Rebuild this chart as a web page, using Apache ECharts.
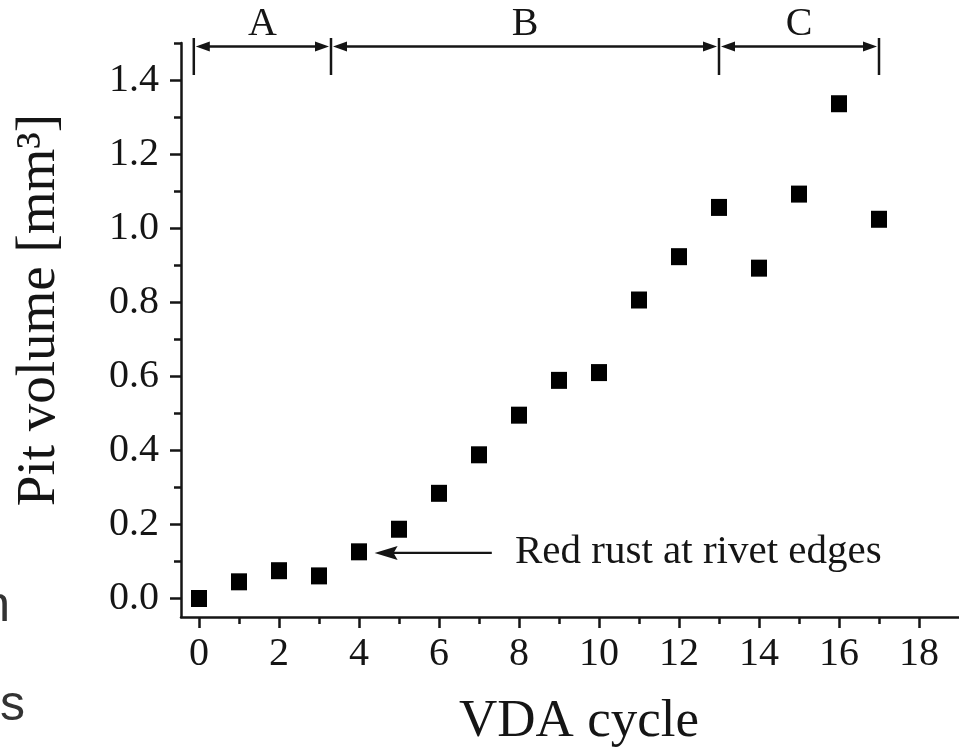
<!DOCTYPE html>
<html><head><meta charset="utf-8">
<script src="https://cdn.jsdelivr.net/npm/echarts@6/dist/echarts.min.js"></script>
<style>html,body{margin:0;padding:0;background:#fff}#c{width:959px;height:752px}</style>
</head><body><div id="c"></div>
<script>
// ---- data ----
const cycles = [0, 1, 2, 3, 4, 5, 6, 7, 8, 9, 10, 11, 12, 13, 14, 15, 16, 17];
const pitVolume = [0.0, 0.045, 0.075, 0.061, 0.126, 0.187, 0.284, 0.388, 0.495, 0.589, 0.610, 0.806, 0.923, 1.056, 0.892, 1.092, 1.336, 1.024];
const xMajorTicks = [0, 2, 4, 6, 8, 10, 12, 14, 16, 18];
const xMinorTicks = [1, 3, 5, 7, 9, 11, 13, 15, 17];
const yMajorTicks = [0, 0.2, 0.4, 0.6, 0.8, 1.0, 1.2, 1.4];
const yMinorTicks = [0.1, 0.3, 0.5, 0.7, 0.9, 1.1, 1.3, 1.5];
const regionBounds = [-0.13, 3.3, 13, 17];
const regionLabels = ['A', 'B', 'C'];
const rustArrowFrom = [7.32, 0.123];
const rustArrowTo = [4.39, 0.123];
const rustLabelX = 7.9;
const rustLabel = 'Red rust at rivet edges';
const xTitle = 'VDA cycle';
const yTitle = 'Pit volume [mm³]';
const sideFragments = ['n', 's'];

// ---- chart ----
const INK = '#151515';
const SERIF = 'Liberation Serif';
const chart = echarts.init(document.getElementById('c'), null, {renderer: 'canvas'});
const X_MIN = -0.45, X_MAX = 19, Y_MIN = -0.05, Y_MAX = 1.5;

function xAxisBase(extra) {
  return Object.assign({
    type: 'value', min: X_MIN, max: X_MAX, position: 'bottom',
    splitLine: {show: false}
  }, extra);
}
function yAxisBase(extra) {
  return Object.assign({
    type: 'value', min: Y_MIN, max: Y_MAX, position: 'left',
    splitLine: {show: false}
  }, extra);
}

chart.setOption({
  animation: false,
  backgroundColor: '#fff',
  grid: {left: 181, right: 0, top: 43, bottom: 135, containLabel: false},
  xAxis: [
    xAxisBase({
      axisLine: {show: true, onZero: false, lineStyle: {color: INK, width: 2.5}},
      axisTick: {show: true, length: 11, customValues: xMajorTicks, lineStyle: {color: INK, width: 2.5}},
      axisLabel: {show: true, customValues: xMajorTicks, margin: 17, fontFamily: SERIF, fontSize: 40, color: INK}
    }),
    xAxisBase({
      axisLine: {show: false, onZero: false},
      axisTick: {show: true, length: 7, customValues: xMinorTicks, lineStyle: {color: INK, width: 2.5}},
      axisLabel: {show: false}
    })
  ],
  yAxis: [
    yAxisBase({
      axisLine: {show: true, onZero: false, lineStyle: {color: INK, width: 2.5}},
      axisTick: {show: true, length: 11, customValues: yMajorTicks, lineStyle: {color: INK, width: 2.5}},
      axisLabel: {show: true, customValues: yMajorTicks, margin: 22, fontFamily: SERIF, fontSize: 40, color: INK,
        formatter: v => Number(v).toFixed(1)}
    }),
    yAxisBase({
      axisLine: {show: false, onZero: false},
      axisTick: {show: true, length: 7, customValues: yMinorTicks, lineStyle: {color: INK, width: 2.5}},
      axisLabel: {show: false}
    })
  ],
  series: [{
    type: 'scatter',
    xAxisIndex: 0, yAxisIndex: 0,
    symbol: 'rect',
    symbolSize: [16, 17],
    itemStyle: {color: '#000', opacity: 1},
    data: cycles.map((c, i) => [c, pitVolume[i]])
  }]
});

// ---- annotations placed via the axis scales ----
const px = v => chart.convertToPixel({xAxisIndex: 0}, v);
const py = v => chart.convertToPixel({yAxisIndex: 0}, v);
const g = [];
const lineStyle = {stroke: INK, lineWidth: 2.5};

// region brackets along the top
const BAR_TOP = 38, BAR_BOT = 75, ARROW_Y = 46.5, HEAD_L = 14, HEAD_H = 5;
const barPx = regionBounds.map(px);
barPx.forEach(x => g.push({type: 'line', shape: {x1: x, y1: BAR_TOP, x2: x, y2: BAR_BOT}, style: lineStyle}));
for (let i = 0; i < regionLabels.length; i++) {
  const L = barPx[i] + 2, R = barPx[i + 1] - 2;
  g.push({type: 'line', shape: {x1: L + 4, y1: ARROW_Y, x2: R - 4, y2: ARROW_Y}, style: lineStyle});
  g.push({type: 'polygon', shape: {points: [[L, ARROW_Y], [L + HEAD_L, ARROW_Y - HEAD_H], [L + HEAD_L, ARROW_Y + HEAD_H]]}, style: {fill: INK}});
  g.push({type: 'polygon', shape: {points: [[R, ARROW_Y], [R - HEAD_L, ARROW_Y - HEAD_H], [R - HEAD_L, ARROW_Y + HEAD_H]]}, style: {fill: INK}});
  g.push({type: 'text', x: (barPx[i] + barPx[i + 1]) / 2, y: 24,
    style: {text: regionLabels[i], font: '40px "Liberation Serif"', fill: INK, align: 'center', verticalAlign: 'middle'}});
}

// red rust arrow + label
const ax1 = px(rustArrowFrom[0]), ax2 = px(rustArrowTo[0]), ay = py(rustArrowTo[1]);
g.push({type: 'line', shape: {x1: ax1, y1: ay, x2: ax2 + 18, y2: ay}, style: {stroke: INK, lineWidth: 2.2}});
g.push({type: 'polygon', shape: {points: [[ax2, ay], [ax2 + 23, ay - 7], [ax2 + 19, ay], [ax2 + 23, ay + 7]]}, style: {fill: INK}});
g.push({type: 'text', x: px(rustLabelX), y: ay - 1,
  style: {text: rustLabel, font: '41px "Liberation Serif"', fill: INK, align: 'left', verticalAlign: 'middle'}});

// axis titles
g.push({type: 'text', x: 579, y: 722,
  style: {text: xTitle, font: '53px "Liberation Serif"', fill: INK, align: 'center', verticalAlign: 'middle'}});
g.push({type: 'text', x: 40, y: 310, rotation: Math.PI / 2,
  style: {text: yTitle, font: '55px "Liberation Serif"', fill: INK, align: 'center', verticalAlign: 'middle'}});

// clipped text fragments at the left edge
g.push({type: 'text', x: 10, y: 607,
  style: {text: sideFragments[0], font: '50px "Liberation Sans"', fill: '#333', align: 'right', verticalAlign: 'middle'}});
g.push({type: 'text', x: 0, y: 706,
  style: {text: sideFragments[1], font: '50px "Liberation Sans"', fill: '#333', align: 'left', verticalAlign: 'middle'}});

chart.setOption({graphic: g});
</script>
</body></html>
